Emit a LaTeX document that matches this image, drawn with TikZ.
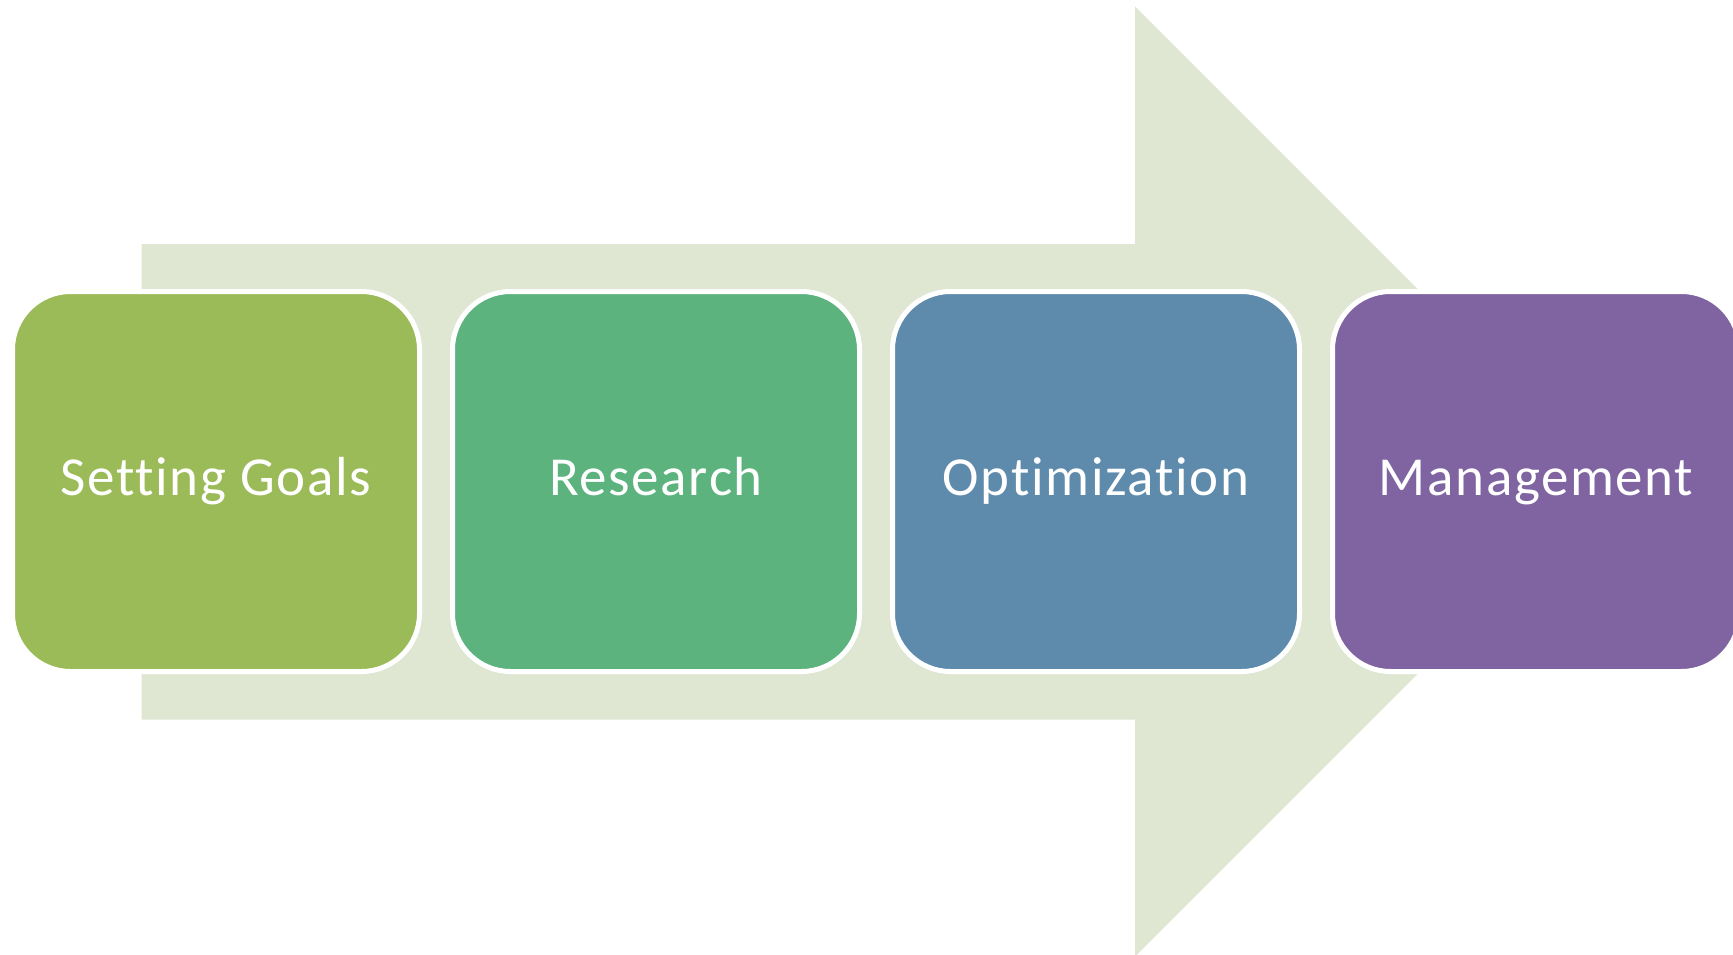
\documentclass[tikz,border=0pt]{standalone}
\usepackage{fontspec}
\setmainfont{Carlito}[Ligatures=NoCommon, LetterSpace=3]
\definecolor{arrowfill}{RGB}{223,231,211}
\definecolor{cA}{RGB}{155,187,89}
\definecolor{cB}{RGB}{92,179,125}
\definecolor{cC}{RGB}{94,139,172}
\definecolor{cD}{RGB}{128,100,162}
\tikzset{
  stepbox/.style={rectangle, rounded corners=58pt, draw=white, line width=5pt,
    minimum width=407pt, minimum height=380pt, inner sep=0pt,
    text=white, font=\fontsize{55}{60}\selectfont, text height=28pt, text depth=0pt},
}
\begin{document}
\begin{tikzpicture}[x=1pt,y=-1pt]
\useasboundingbox (0,0) rectangle (1733,955);
\fill[arrowfill] (141.5,244) -- (1135,244) -- (1135,6.5) -- (1610,481.5) -- (1135,956.5) -- (1135,719.5) -- (141.5,719.5) -- cycle;
\node[stepbox, fill=cA] (goals) at (216,481.5) {Setting Goals};
\node[stepbox, fill=cB] (research) at (656,481.5) {Research};
\node[stepbox, fill=cC] (optim) at (1096,481.5) {Optimization};
\node[stepbox, fill=cD] (manage) at (1536,481.5) {Management};
\end{tikzpicture}
\end{document}
